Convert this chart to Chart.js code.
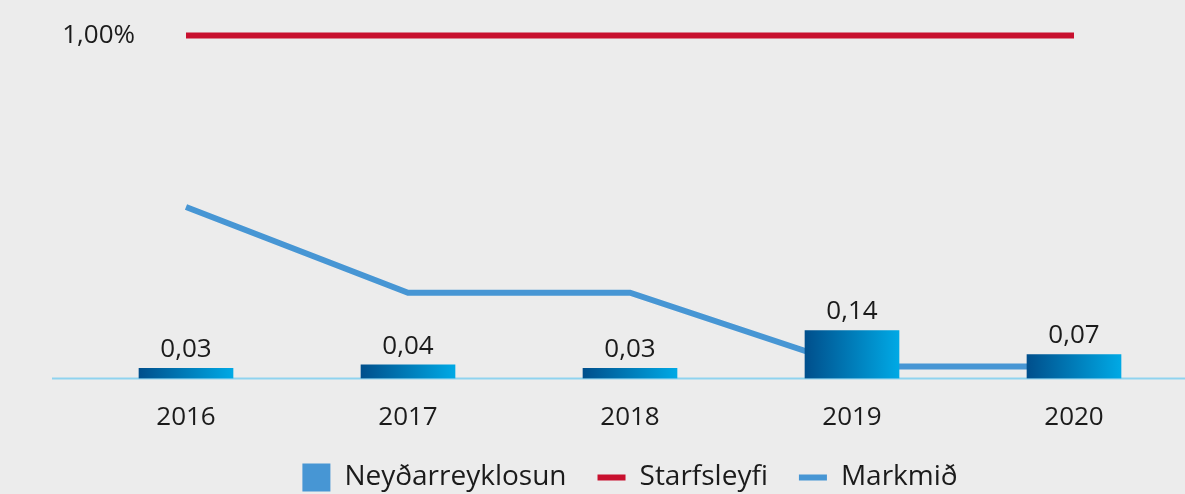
<!DOCTYPE html>
<html>
<head>
<meta charset="utf-8">
<script src="https://cdn.jsdelivr.net/npm/chart.js@4/dist/chart.umd.min.js"></script>
<style>
    html, body { margin: 0; padding: 0; background: #ececec; }
    #wrap { width: 1185px; height: 494px; position: relative; }
</style>
</head>
<body>
<div id="wrap"><canvas id="chart"></canvas></div>
<script>
// dados do grafico
const years = ['2016', '2017', '2018', '2019', '2020'];
const neydarValues = [0.03, 0.04, 0.03, 0.14, 0.07];
const starfsleyfiValues = [1, 1, 1, 1, 1];
const markmidValues = [0.5, 0.25, 0.25, 0.035, 0.035];
const yTickValue = 1;
const yTickLabel = '1,00%';

const BAR_W = 94;
const TEXT_COLOR = '#1b1b1b';
const FONT = "'Open Sans', sans-serif";

// formatar numero com virgula
function formatValue(v) {
    return v.toFixed(2).replace('.', ',');
}

// gradiente horizontal de cada barra
function barGradient(context) {
    const chart = context.chart;
    if (!chart.chartArea) {
        return '#0a6fb0';
    }
    const cx = chart.scales.x.getPixelForValue(context.dataIndex);
    const g = chart.ctx.createLinearGradient(cx - BAR_W / 2, 0, cx + BAR_W / 2, 0);
    g.addColorStop(0, '#004f8c');
    g.addColorStop(1, '#00a9e5');
    return g;
}

// linha de base, rotulo do eixo y e valores das barras
const extrasPlugin = {
    id: 'extras',
    beforeDatasetsDraw(chart) {
        const ctx = chart.ctx;
        const area = chart.chartArea;
        const y0 = chart.scales.y.getPixelForValue(0);
        ctx.save();
        ctx.strokeStyle = '#8fd3ef';
        ctx.lineWidth = 2;
        ctx.beginPath();
        ctx.moveTo(area.left - 23, y0);
        ctx.lineTo(area.right, y0);
        ctx.stroke();
        ctx.restore();
    },
    afterDatasetsDraw(chart) {
        const ctx = chart.ctx;
        const area = chart.chartArea;
        ctx.save();
        ctx.fillStyle = TEXT_COLOR;
        ctx.font = '26px ' + FONT;

        // rotulo 1,00%
        ctx.textAlign = 'right';
        ctx.textBaseline = 'middle';
        ctx.fillText(yTickLabel, area.left + 60, chart.scales.y.getPixelForValue(yTickValue));

        // valores acima das barras
        ctx.textAlign = 'center';
        ctx.textBaseline = 'alphabetic';
        const meta = chart.getDatasetMeta(0);
        meta.data.forEach((bar, i) => {
            ctx.fillText(formatValue(neydarValues[i]), bar.x, bar.y - 11);
        });
        ctx.restore();
    }
};

const chartConfig = {
    type: 'bar',
    data: {
        labels: years,
        datasets: [
            {
                type: 'bar',
                label: 'Neyðarreyklosun',
                data: neydarValues,
                backgroundColor: barGradient,
                borderWidth: 0,
                barThickness: BAR_W,
                legendColor: '#4796d4',
                order: 2
            },
            {
                type: 'line',
                label: 'Starfsleyfi',
                data: starfsleyfiValues,
                borderColor: '#c8102e',
                borderWidth: 6,
                pointRadius: 0,
                fill: false,
                clip: false,
                legendColor: '#c8102e',
                order: 1
            },
            {
                type: 'line',
                label: 'Markmið',
                data: markmidValues,
                borderColor: '#4796d4',
                borderWidth: 6,
                pointRadius: 0,
                fill: false,
                tension: 0,
                legendColor: '#4796d4',
                order: 3
            }
        ]
    },
    options: {
        responsive: true,
        maintainAspectRatio: false,
        animation: false,
        layout: {
            padding: { left: 75, right: 0, top: 35.5, bottom: 0 }
        },
        scales: {
            x: {
                grid: { display: false, drawTicks: false },
                border: { display: false },
                ticks: {
                    color: TEXT_COLOR,
                    padding: 23,
                    font: { family: FONT, size: 26 }
                },
                afterFit: function(scale) {
                    scale.height = 54;
                }
            },
            y: {
                display: false,
                min: 0,
                max: 1
            }
        },
        plugins: {
            tooltip: { enabled: false },
            legend: {
                position: 'bottom',
                maxHeight: 61.5,
                labels: {
                    usePointStyle: true,
                    pointStyleWidth: 28,
                    boxHeight: 28,
                    padding: 31,
                    color: TEXT_COLOR,
                    font: { family: FONT, size: 28 },
                    generateLabels: function(chart) {
                        return chart.data.datasets.map(function(ds, i) {
                            return {
                                text: ds.label,
                                fillStyle: ds.legendColor,
                                strokeStyle: ds.legendColor,
                                lineWidth: ds.type === 'bar' ? 0 : 6,
                                pointStyle: ds.type === 'bar' ? 'rect' : 'line',
                                fontColor: TEXT_COLOR,
                                hidden: false,
                                datasetIndex: i
                            };
                        });
                    }
                }
            }
        }
    },
    plugins: [extrasPlugin]
};

new Chart(document.getElementById('chart').getContext('2d'), chartConfig);
</script>
</body>
</html>
